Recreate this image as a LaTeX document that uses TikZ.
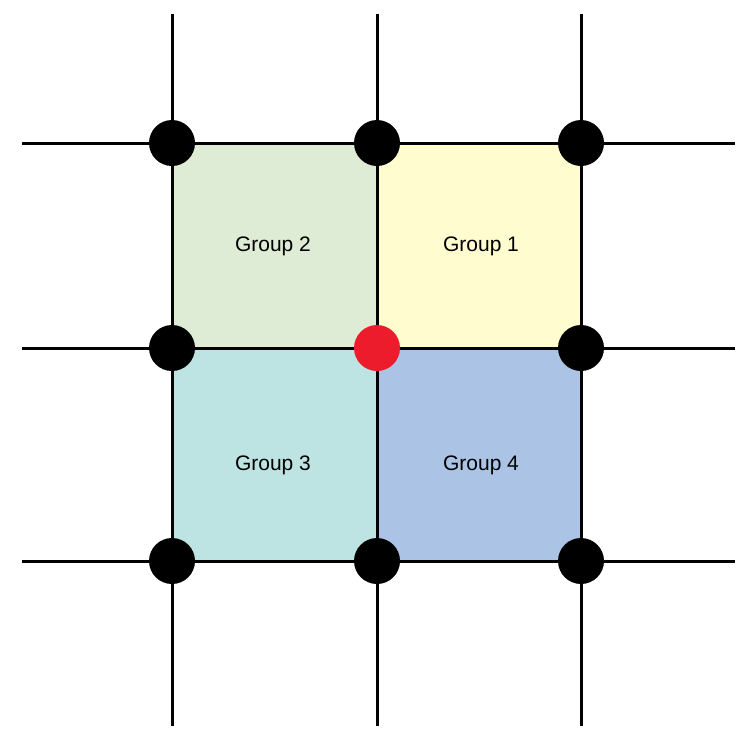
\documentclass[tikz,border=0pt]{standalone}
\usepackage{fontspec}
\setmainfont{Liberation Sans}
\usetikzlibrary{positioning}
\definecolor{grpone}{HTML}{FFFDD0}
\definecolor{grptwo}{HTML}{DEEBD5}
\definecolor{grpthree}{HTML}{BDE4E2}
\definecolor{grpfour}{HTML}{ABC4E6}
\definecolor{hotred}{HTML}{EC1C2C}
\begin{document}
\begin{tikzpicture}[
  x=1pt, y=-1pt,
  grid/.style={line width=3pt, black},
  dot/.style={circle, fill=black, minimum size=46pt, inner sep=0pt},
  label/.style={font=\fontsize{21}{25}\selectfont}
]
\useasboundingbox (0,0) rectangle (746,742);

% Coloured squares
\fill[grptwo] (172,143) rectangle (377,348);
\fill[grpone] (377,143) rectangle (581,348);
\fill[grpthree] (172,348) rectangle (377,561);
\fill[grpfour] (377,348) rectangle (581,561);

% Grid lines
\foreach \x in {172,377,581}
  \draw[grid] (\x,14) -- (\x,726);
\foreach \y in {143,348,561}
  \draw[grid] (22,\y) -- (735,\y);

% Group labels
\node[label] (g2) at (273,246) {Group 2};
\node[label] (g1) at (481,246) {Group 1};
\node[label] (g3) at (273,465) {Group 3};
\node[label] (g4) at (481,465) {Group 4};

% Corner points
\node[dot] (p11) at (172,143) {};
\node[dot] (p12) at (377,143) {};
\node[dot] (p13) at (581,143) {};
\node[dot] (p21) at (172,348) {};
\node[dot, fill=hotred] (p22) at (377,348) {};
\node[dot] (p23) at (581,348) {};
\node[dot] (p31) at (172,561) {};
\node[dot] (p32) at (377,561) {};
\node[dot] (p33) at (581,561) {};

\end{tikzpicture}
\end{document}
